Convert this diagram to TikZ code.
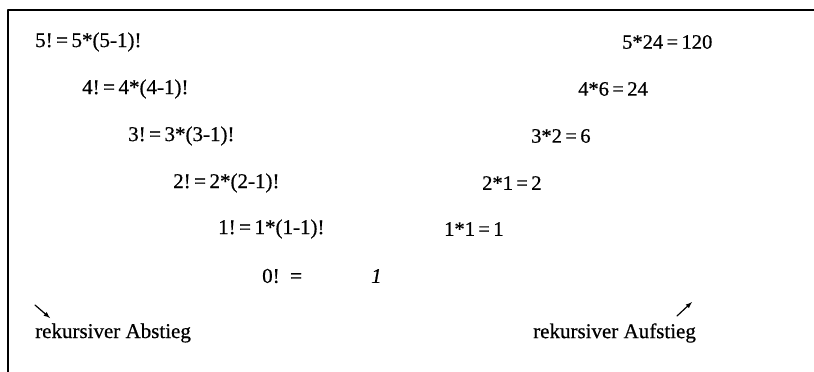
\documentclass[tikz,border=0pt]{standalone}
\usepackage{fontspec}
\setmainfont{Liberation Serif}[FakeBold=0.6]
\usetikzlibrary{arrows}

\begin{document}
\begin{tikzpicture}[line cap=round,line join=round,x=1pt,y=-1pt,
    txt/.style={anchor=west,inner sep=0pt,font=\fontsize{20.5}{24}\selectfont},
    eqn/.style={txt,font=\fontsize{21}{25}\selectfont}]
        \useasboundingbox (0,0) rectangle (814,372);
        \draw [line width=1.6pt] (814,10)-- (8,10)-- (8,372);
        % recursive descent
        \node[eqn] (ab5) at (35,42) {5!\,=\,5*(5-1)!};
        \node[eqn] (ab4) at (82,89) {4!\,=\,4*(4-1)!};
        \node[eqn] (ab3) at (128,136) {3!\,=\,3*(3-1)!};
        \node[eqn] (ab2) at (173,183) {2!\,=\,2*(2-1)!};
        \node[eqn] (ab1) at (218,229) {1!\,=\,1*(1-1)!};
        \node[eqn] (ab0) at (262,276) {0! \,=};
        \node[eqn] (eins) at (371,276) {\textit{1}};
        % recursive ascent
        \node[txt] (auf1) at (444,229) {1*1\,=\,1};
        \node[txt] (auf2) at (482,183) {2*1\,=\,2};
        \node[txt] (auf3) at (531,136) {3*2\,=\,6};
        \node[txt] (auf4) at (578,89) {4*6\,=\,24};
        \node[txt] (auf5) at (622,42) {5*24\,=\,120};
        % labels
        \node[eqn] (abstieg) at (35,333) {rekursiver Abstieg};
        \node[eqn] (aufstieg) at (533,333) {rekursiver Aufstieg};
        \coordinate (abS) at (35,305);
        \coordinate (abE) at (50,318);
        \coordinate (aufS) at (677,316);
        \coordinate (aufE) at (692,302);
        \draw [line width=1.2pt,-latex] (abS)-- (abE);
        \draw [line width=1.2pt,-latex] (aufS)-- (aufE);
    \end{tikzpicture}
\end{document}
